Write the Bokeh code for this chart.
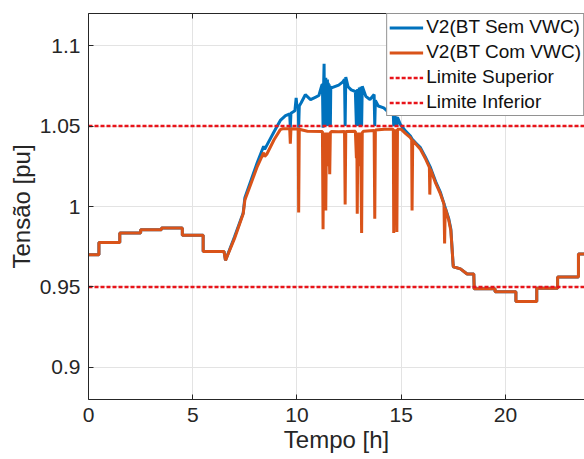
import numpy as np
from bokeh.plotting import figure
from bokeh.models import (Range1d, FixedTicker, CustomJSTickFormatter, LinearAxis,
                          Legend, LegendItem)
from bokeh.embed import file_html
from bokeh.resources import INLINE

# ---------------- data ----------------
# shared night/morning part (both series identical)
t_am = [0, 0.5, 0.5, 1.5, 1.5, 2.5, 2.5, 3.5, 3.5, 4.5, 4.5, 5.5, 5.5, 6.5]
v_am = [0.970, 0.970, 0.9776, 0.9776, 0.9835, 0.9835, 0.9856, 0.9856,
        0.9866, 0.9866, 0.9822, 0.9822, 0.9720, 0.9720]

# daytime, without VWC
t_sem = [6.57, 7.0, 7.42, 7.5, 7.8, 8.1, 8.4, 8.45, 8.55, 8.9, 9.2, 9.45, 9.65, 9.68,
         9.71, 9.9, 9.96, 10.0, 10.06, 10.08, 10.11, 10.2, 10.4, 10.65, 10.9, 11.05,
         11.2, 11.22, 11.25, 11.28, 11.3, 11.32, 11.34, 11.36, 11.38, 11.4, 11.42,
         11.44, 11.46, 11.48, 11.5, 11.52, 11.54, 11.56, 11.58, 11.6, 11.62, 11.65,
         12.0, 12.2, 12.28, 12.31, 12.34, 12.45,
         12.6, 12.8, 12.85, 12.87, 12.89, 12.91, 12.93, 12.95, 12.97, 12.99, 13.01,
         13.03, 13.05, 13.07, 13.1, 13.13, 13.3, 13.5, 13.7, 13.73, 13.76, 13.9,
         14.16, 14.4, 14.62, 14.64, 14.67, 14.72, 14.75, 14.79, 14.82, 14.96, 15.2,
         15.44, 15.52, 15.7, 15.92, 16.15, 16.4, 16.65, 16.88, 17.08, 17.28, 17.38,
         17.49]
v_sem = [0.9665, 0.981, 0.9960, 1.0055, 1.0165, 1.0275, 1.0375, 1.0355, 1.038, 1.0465,
         1.0535, 1.0565, 1.0575, 1.049, 1.058, 1.0595, 1.0675, 1.062, 1.062, 1.049,
         1.0625, 1.0645, 1.0695, 1.0665, 1.068, 1.069, 1.0757, 1.0757, 1.049, 1.077,
         1.0887, 1.05, 1.079, 1.05, 1.08, 1.052, 1.078, 1.05, 1.079, 1.05, 1.077,
         1.052, 1.076, 1.05, 1.075, 1.05, 1.074, 1.0737,
         1.0755, 1.0775, 1.079, 1.05, 1.0805, 1.0745,
         1.0725, 1.0715, 1.05, 1.072, 1.05, 1.073, 1.05, 1.073, 1.05, 1.074, 1.05,
         1.074, 1.05, 1.0745, 1.05, 1.0747, 1.0685, 1.0665, 1.0696, 1.05, 1.066,
         1.0625, 1.0613, 1.0585, 1.0572, 1.05, 1.0565, 1.05, 1.056, 1.05, 1.0555,
         1.051, 1.047, 1.0438, 1.042, 1.0395, 1.0366, 1.031, 1.0243, 1.0155, 1.0088,
         1.0005, 0.9924, 0.986, 0.9636]

# daytime, with VWC
t_com = [6.57, 7.0, 7.42, 7.5, 7.8, 8.1, 8.4, 8.45, 8.55, 8.9, 9.2, 9.3, 9.65, 9.68,
         9.71, 10.06, 10.08, 10.11, 10.5, 11.22, 11.25, 11.28, 11.32, 11.35, 11.38,
         11.41, 11.44, 11.47, 11.5, 11.53, 11.57, 11.6, 11.65, 12.0, 12.28, 12.31,
         12.34, 12.8, 12.85, 12.87, 12.89, 12.92, 12.96, 12.99, 13.02, 13.05, 13.1,
         13.13, 13.2, 13.7, 13.73, 13.76, 14.2, 14.62, 14.64, 14.67, 14.72, 14.75,
         14.79, 14.82, 15.0, 15.2, 15.44, 15.5, 15.52, 15.55, 15.92, 16.15, 16.35,
         16.37, 16.4, 16.65, 16.88, 17.05, 17.08, 17.11, 17.28, 17.38, 17.49]
v_com = [0.9665, 0.980, 0.9955, 1.004, 1.0145, 1.025, 1.0335, 1.031, 1.0325, 1.0415,
         1.0478, 1.0483, 1.0483, 1.039, 1.0483, 1.0482, 0.9962, 1.048, 1.0468, 1.0466,
         0.9858, 1.046, 1.03, 1.046, 0.9975, 1.044, 1.027, 1.046, 1.025, 1.045, 1.02,
         1.046, 1.0466, 1.0465, 1.0466, 1.0012, 1.0466, 1.0468, 1.03, 1.046, 0.9955,
         1.046, 1.025, 1.046, 1.03, 1.046, 0.9835, 1.046, 1.0468, 1.0472, 0.9924,
         1.0475, 1.048, 1.048, 0.9835, 1.048, 1.03, 1.048, 0.9842, 1.048, 1.048,
         1.0455, 1.0428, 1.0415, 0.9975, 1.041, 1.0356, 1.030, 1.0243, 1.0074, 1.0233,
         1.0145, 1.0078, 1.0015, 0.977, 0.999, 0.9915, 0.985, 0.9636]

# shared evening/night part
t_pm = [17.5, 17.84, 18.16, 18.48, 18.5, 19.5, 19.5, 20.5, 20.5, 21.5, 21.5, 22.5,
        22.5, 23.5, 23.5, 24.0]
v_pm = [0.9625, 0.9612, 0.958, 0.958, 0.9488, 0.9488, 0.9470, 0.9470, 0.9410,
        0.9410, 0.9492, 0.9492, 0.9562, 0.9562, 0.9705, 0.9705]

t_lim = [0, 24]
v_sup = [1.05, 1.05]
v_inf = [0.95, 0.95]

x_ticks = [0, 5, 10, 15, 20]
y_ticks = [0.9, 0.95, 1.0, 1.05, 1.1]

t_blue = t_am + t_sem + t_pm
v_blue = v_am + v_sem + v_pm
t_orng = t_am + t_com + t_pm
v_orng = v_am + v_com + v_pm

# ---------------- figure ----------------
FONT = "Liberation Sans"
DARK = "#262626"

p = figure(width=584, height=459, x_range=Range1d(0, 23.79), y_range=Range1d(0.88, 1.12),
           output_backend="svg", toolbar_location=None,
           min_border_left=88, min_border_right=0, min_border_top=13, min_border_bottom=60)
p.outline_line_color = None
p.background_fill_color = "white"

r_blue = p.line(t_blue, v_blue, line_color="#0072BD", line_width=3)
r_orng = p.line(t_orng, v_orng, line_color="#D95319", line_width=3)
r_sup = p.line(t_lim, v_sup, line_color="#e8141a", line_width=2.5, line_dash="4 2")
r_inf = p.line(t_lim, v_inf, line_color="#e8141a", line_width=2.5, line_dash="4 2")

for ax in (p.xaxis[0], p.yaxis[0]):
    ax.axis_line_color = DARK
    ax.major_tick_line_color = DARK
    ax.major_tick_in = 5
    ax.major_tick_out = 0
    ax.minor_tick_line_color = None
    ax.major_label_text_font = FONT
    ax.major_label_text_font_size = "21px"
    ax.major_label_text_color = DARK
    ax.axis_label_text_font = FONT
    ax.axis_label_text_font_size = "24px"
    ax.axis_label_text_font_style = "normal"
    ax.axis_label_text_color = DARK

p.xaxis[0].ticker = FixedTicker(ticks=x_ticks)
p.yaxis[0].ticker = FixedTicker(ticks=y_ticks)
p.yaxis[0].formatter = CustomJSTickFormatter(
    code="return tick.toFixed(2).replace(/\\.?0+$/, '');")
p.xaxis[0].axis_label = "Tempo [h]"
p.yaxis[0].axis_label = "Tensão [pu]"
p.xaxis[0].major_label_standoff = 8
p.xaxis[0].axis_label_standoff = 1
p.yaxis[0].major_label_standoff = 8
p.yaxis[0].axis_label_standoff = 2

top_ax = LinearAxis(ticker=FixedTicker(ticks=x_ticks),
                    formatter=CustomJSTickFormatter(code="return '';"),
                    axis_line_color=DARK, major_tick_line_color=DARK,
                    major_tick_in=5, major_tick_out=0, minor_tick_line_color=None,
                    major_label_standoff=0, major_label_text_font_size="1px")
p.add_layout(top_ax, "above")

p.xgrid.ticker = FixedTicker(ticks=x_ticks)
p.ygrid.ticker = FixedTicker(ticks=y_ticks)
p.grid.grid_line_color = "#e3e3e3"
p.grid.grid_line_width = 1

legend = Legend(items=[
    LegendItem(label="V2(BT Sem VWC)", renderers=[r_blue]),
    LegendItem(label="V2(BT Com VWC)", renderers=[r_orng]),
    LegendItem(label="Limite Superior", renderers=[r_sup]),
    LegendItem(label="Limite Inferior", renderers=[r_inf]),
], location="top_right")
legend.margin = 0
legend.padding = 2
legend.spacing = 3
legend.label_height = 21
legend.glyph_height = 21
legend.glyph_width = 34
legend.label_standoff = 3
legend.label_text_font = FONT
legend.label_text_font_size = "19px"
legend.label_text_color = "#111111"
legend.border_line_color = DARK
legend.border_line_width = 1
legend.background_fill_alpha = 1
p.add_layout(legend)

open("out.html", "w").write(file_html(p, INLINE))
